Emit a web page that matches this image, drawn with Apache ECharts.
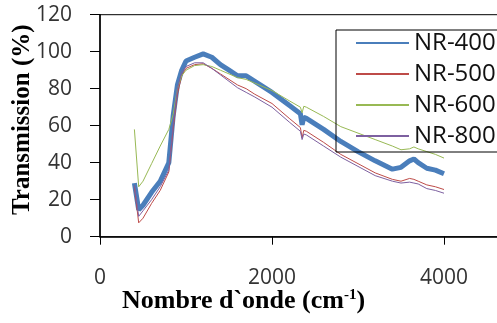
<!DOCTYPE html>
<html>
<head>
<meta charset="utf-8">
<script src="https://cdn.jsdelivr.net/npm/echarts@6/dist/echarts.min.js"></script>
<style>
  html, body { margin: 0; padding: 0; background: #fff; }
  #chart { width: 497px; height: 323px; }
</style>
</head>
<body>
<div id="chart"></div>
<script>
// nombre d'onde (cm-1)
const waveNumbers = [400, 450, 500, 600, 700, 800, 850, 900, 950, 1000, 1100, 1200, 1300, 1400, 1500, 1600, 1700, 1800, 2000, 2200, 2330, 2350, 2370, 2400, 2600, 2800, 3000, 3200, 3400, 3500, 3600, 3650, 3700, 3800, 3900, 4000]
const nr400 = [29, 14.5, 17, 24, 30, 40, 65, 82, 90, 95, 97, 98.8, 97, 93, 90, 87, 87, 84, 78, 71, 66.5, 60.5, 64.5, 64, 58, 51.5, 46, 41, 36.5, 37.5, 41, 42, 40, 37, 36, 34]
const nr500 = [27, 7.5, 10, 18, 25, 35, 58, 77, 87, 91, 93, 93.5, 91, 88, 85, 82, 80, 77, 72, 64, 59, 53.5, 57.5, 57, 51, 44.5, 39.5, 34.5, 31, 30, 31.5, 31, 30, 28, 27, 25.5]
const nr600 = [58, 27, 30, 39.5, 49, 58, 66, 80, 87, 90, 92.5, 93, 92, 90, 88, 86, 85, 83, 79, 73.5, 70, 67, 70.5, 70, 65, 59.5, 56, 52.5, 49, 47, 47.5, 48.5, 47.5, 46, 44.5, 42.5]
const nr800 = [28, 11, 14, 20, 27, 36, 60, 80, 89, 92, 94, 94, 91, 87.5, 84, 80.5, 78, 75.5, 70, 62, 57, 52.5, 55.5, 55, 49, 43, 38, 33, 30, 29, 29.5, 29, 28.5, 26, 25, 23.5]
const yTicks = [0, 20, 40, 60, 80, 100, 120]
const xTicks = [0, 2000, 4000]

const toPairs = (vals) => waveNumbers.map((w, i) => [w, vals[i]])

const myChart = echarts.init(document.getElementById('chart'), null, { renderer: 'canvas' })

const option = {
  animation: false,
  backgroundColor: '#fff',
  grid: {
    left: 100,
    top: 14.7,
    width: 430,
    height: 222,
    containLabel: false,
    outerBoundsMode: 'none',
    show: true,
    borderColor: '#000',
    borderWidth: 1
  },
  legend: {
    orient: 'vertical',
    left: 336,
    top: 30,
    padding: [1, 40, 4, 19],
    itemWidth: 53,
    itemHeight: 12,
    itemGap: 7,
    borderColor: '#000',
    borderWidth: 1,
    itemStyle: { opacity: 0 },
    textStyle: {
      fontFamily: 'Open Sans',
      fontSize: 24,
      lineHeight: 24,
      color: '#111'
    },
    data: ['NR-400', 'NR-500', 'NR-600', 'NR-800']
  },
  xAxis: {
    type: 'value',
    min: 0,
    max: 5000,
    interval: 2000,
    axisLine: { lineStyle: { color: '#000', width: 1.5 } },
    axisTick: { show: true, inside: false, length: 8, lineStyle: { color: '#000' } },
    splitLine: { show: false },
    axisLabel: {
      margin: 31,
      fontFamily: 'Open Sans',
      fontSize: 21,
      color: '#333',
      formatter: (v) => (xTicks.includes(v) ? String(v) : '')
    }
  },
  yAxis: {
    type: 'value',
    min: 0,
    max: 120,
    interval: 20,
    name: 'Transmission (%)',
    nameLocation: 'middle',
    nameGap: 65,
    nameMoveOverlap: false,
    nameTextStyle: {
      fontFamily: 'Liberation Serif',
      fontWeight: 'bold',
      fontSize: 25,
      color: '#000',
      padding: [0, 0, 0, 12]
    },
    axisLine: { show: true, lineStyle: { color: '#000', width: 1.5 } },
    axisTick: { show: true, inside: false, length: 10, lineStyle: { color: '#000' } },
    splitLine: { show: false },
    axisLabel: {
      margin: 28,
      fontFamily: 'Open Sans',
      fontSize: 21,
      color: '#333',
      formatter: (v) => (yTicks.includes(v) ? String(v) : '')
    }
  },
  graphic: [
    {
      type: 'text',
      left: 122,
      top: 288,
      style: {
        text: '{t|Nombre d`onde (cm}{s|-1}{t|)}',
        rich: {
          t: { fontFamily: 'Liberation Serif', fontWeight: 'bold', fontSize: 26, fill: '#000' },
          s: { fontFamily: 'Liberation Serif', fontWeight: 'bold', fontSize: 15, fill: '#000', verticalAlign: 'top', padding: [0, 0, 10, 0] }
        }
      }
    }
  ],
  series: [
    {
      name: 'NR-400',
      type: 'line',
      data: toPairs(nr400),
      symbol: 'none',
      lineStyle: { color: '#4a7ebb', width: 5 },
      itemStyle: { color: '#4a7ebb' },
      z: 2
    },
    {
      name: 'NR-500',
      type: 'line',
      data: toPairs(nr500),
      symbol: 'none',
      lineStyle: { color: '#be4b48', width: 1 },
      itemStyle: { color: '#be4b48' },
      z: 3
    },
    {
      name: 'NR-600',
      type: 'line',
      data: toPairs(nr600),
      symbol: 'none',
      lineStyle: { color: '#98b954', width: 1 },
      itemStyle: { color: '#98b954' },
      z: 3
    },
    {
      name: 'NR-800',
      type: 'line',
      data: toPairs(nr800),
      symbol: 'none',
      lineStyle: { color: '#7d60a0', width: 1 },
      itemStyle: { color: '#7d60a0' },
      z: 3
    }
  ]
}

myChart.setOption(option)
</script>
</body>
</html>
